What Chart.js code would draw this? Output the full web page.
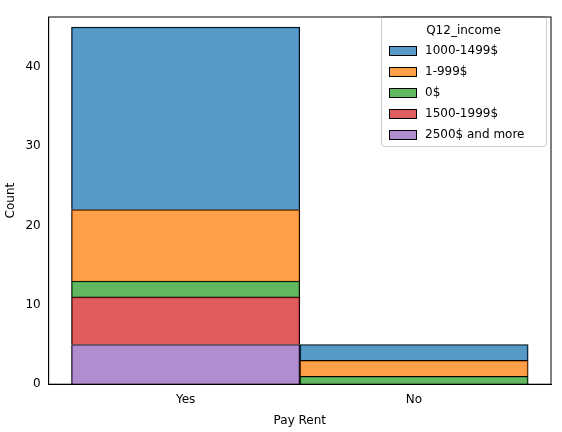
<!doctype html>
<html>
<head>
<script src="https://cdn.jsdelivr.net/npm/chart.js@4"></script>
<style>body{margin:0;background:#fff}</style>
</head>
<body>
<div style="width:562px;height:432px"><canvas id="c"></canvas></div>
<script>
var categories = ['Yes', 'No'];
var incomeGroups = ['2500$ and more', '1500-1999$', '0$', '1-999$', '1000-1499$'];
var counts2500 = [5, 0];
var counts1500 = [6, 0];
var counts0 = [2, 1];
var counts1 = [9, 2];
var counts1000 = [23, 2];
var legendOrder = ['1000-1499$', '1-999$', '0$', '1500-1999$', '2500$ and more'];
var colors = {
	'1000-1499$': 'rgba(31,119,180,0.75)',
	'1-999$': 'rgba(255,127,14,0.75)',
	'0$': 'rgba(44,160,44,0.75)',
	'1500-1999$': 'rgba(214,39,40,0.75)',
	'2500$ and more': 'rgba(148,103,189,0.75)'
};
var values = [counts2500, counts1500, counts0, counts1, counts1000];

var datasets = incomeGroups.map(function(g, i) {
	return {
		label: g,
		data: values[i].map(function(v, j) { return {x: j, y: v}; }),
		backgroundColor: colors[g],
		borderColor: '#000',
		borderWidth: 1,
		barPercentage: 1,
		categoryPercentage: 1
	};
});

var legendBox = {
	id: 'legendBox',
	afterDraw: function(chart) {
		var ctx = chart.ctx;
		var x = 381, y = 16, w = 165, h = 130;
		ctx.save();
		ctx.fillStyle = 'rgba(255,255,255,0.8)';
		ctx.strokeStyle = '#ccc';
		ctx.lineWidth = 1;
		ctx.beginPath();
		ctx.roundRect(x + 0.5, y + 0.5, w, h, 3);
		ctx.fill(); ctx.stroke();
		ctx.fillStyle = '#000';
		ctx.font = '12px "DejaVu Sans"';
		ctx.textAlign = 'center';
		ctx.textBaseline = 'middle';
		ctx.fillText('Q12_income', x + w / 2, y + 15);
		ctx.textAlign = 'left';
		legendOrder.forEach(function(g, i) {
			var yy = y + 35 + i * 21;
			ctx.fillStyle = '#fff';
			ctx.fillRect(x + 8, yy - 5, 28, 10);
			ctx.fillStyle = colors[g];
			ctx.fillRect(x + 8, yy - 5, 28, 10);
			ctx.strokeStyle = '#000';
			ctx.strokeRect(x + 8.5, yy - 4.5, 27, 9);
			ctx.fillStyle = '#000';
			ctx.fillText(g, x + 44, yy);
		});
		ctx.restore();
	}
};

new Chart(document.getElementById('c'), {
	type: 'bar',
	data: {datasets: datasets},
	plugins: [legendBox],
	options: {
		responsive: true,
		maintainAspectRatio: false,
		animation: false,
		layout: {padding: {top: 17, right: 11, left: 0, bottom: 0}},
		plugins: {legend: {display: false}, tooltip: {enabled: false}},
		scales: {
			x: {
				type: 'linear', stacked: true, min: -0.6, max: 1.6, offset: false,
				afterBuildTicks: function(s) { s.ticks = [{value: 0}, {value: 1}]; },
				ticks: {color: '#000', font: {size: 12, family: 'DejaVu Sans'},
					callback: function(v) { return categories[v]; }},
				grid: {display: false, drawTicks: true, tickLength: 5, tickColor: '#000'},
				border: {color: '#000'},
				title: {display: true, text: 'Pay Rent', color: '#000', font: {size: 12, family: 'DejaVu Sans'}}
			},
			y: {
				stacked: true, min: 0, max: 46.26,
				afterBuildTicks: function(s) { s.ticks = [0, 10, 20, 30, 40].map(function(v) { return {value: v}; }); },
				ticks: {color: '#000', font: {size: 12, family: 'DejaVu Sans'}},
				grid: {display: false, drawTicks: true, tickLength: 5, tickColor: '#000'},
				border: {color: '#000'},
				title: {display: true, text: 'Count', color: '#000', font: {size: 12, family: 'DejaVu Sans'}}
			}
		}
	},
	plugins: [legendBox, {
		id: 'frame',
		afterDraw: function(chart) {
			var a = chart.chartArea, ctx = chart.ctx;
			ctx.save(); ctx.strokeStyle = '#000'; ctx.lineWidth = 1;
			ctx.strokeRect(a.left, a.top, a.right - a.left, a.bottom - a.top);
			ctx.restore();
		}
	}]
});
</script>
</body>
</html>
